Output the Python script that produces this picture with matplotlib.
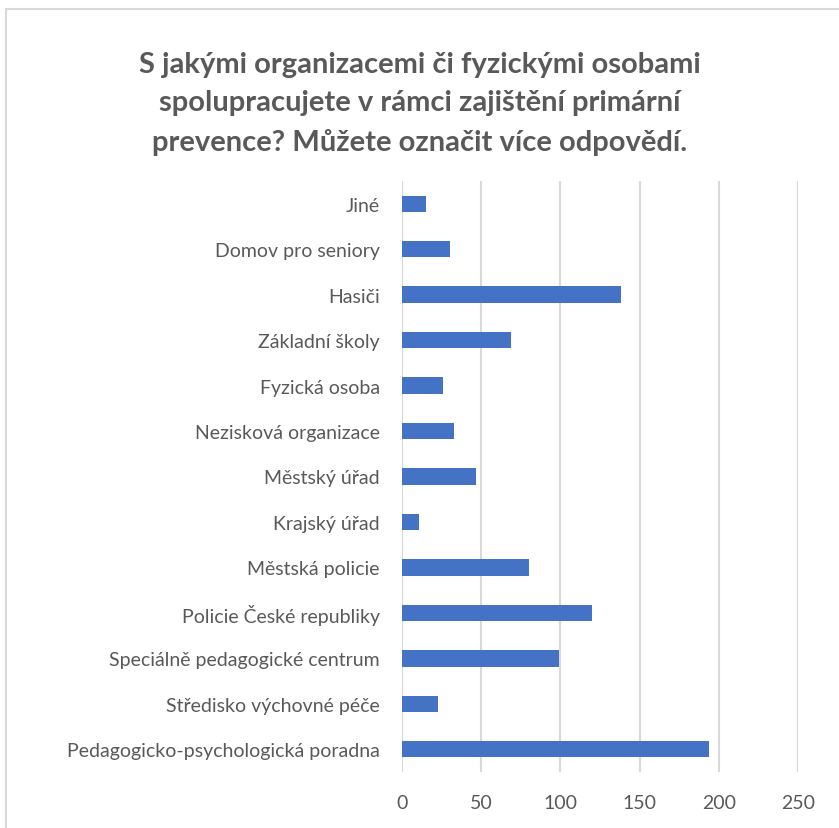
import matplotlib
matplotlib.use("Agg")
import matplotlib.pyplot as plt
from matplotlib.lines import Line2D

plt.rcParams['font.family'] = ['Lato', 'DejaVu Sans']

# Data (top to bottom)
categories = [
    "Jiné",
    "Domov pro seniory",
    "Hasiči",
    "Základní školy",
    "Fyzická osoba",
    "Nezisková organizace",
    "Městský úřad",
    "Krajský úřad",
    "Městská policie",
    "Policie České republiky",
    "Speciálně pedagogické centrum",
    "Středisko výchovné péče",
    "Pedagogicko-psychologická poradna",
]
values = [15, 30, 138, 69, 26, 33, 47, 11, 80, 120, 99, 23, 194]
xticks = [0, 50, 100, 150, 200, 250]

title = ("S jakými organizacemi či fyzickými osobami\n"
         "spolupracujete v rámci zajištění primární\n"
         "prevence? Můžete označit více odpovědí.")

W, H = 839, 829
fig = plt.figure(figsize=(W / 100, H / 100), dpi=100)

# Axes placed in pixel terms: x 402..798, y 182..773
left, right, top, bottom = 402, 798, 182, 773
ax = fig.add_axes([left / W, 1 - bottom / H, (right - left) / W, (bottom - top) / H])

ypos = list(range(len(categories)))
ax.barh(ypos, values, height=0.36, color='#4472C4', zorder=3)
ax.set_ylim(len(categories) - 0.5, -0.5)
ax.set_xlim(0, 250)

ax.set_xticks(xticks)
ax.set_yticks(ypos)
ax.set_yticklabels(categories)
ax.tick_params(axis='both', length=0, labelsize=14, colors='#595959')
ax.tick_params(axis='y', pad=16)
ax.tick_params(axis='x', pad=16)
ax.grid(axis='x', color='#d9d9d9', linewidth=1.5, zorder=0)
for s in ax.spines.values():
    s.set_visible(False)

fig.text(420 / W, 1 - 104 / H, title, ha='center', va='center',
         fontsize=21, fontweight='bold', color='#595959', linespacing=1.57)

# outer chart border (left and top visible)
fig.add_artist(Line2D([6 / W, 6 / W], [0, 1 - 10 / H], transform=fig.transFigure,
                      color='#d9d9d9', linewidth=1.5))
fig.add_artist(Line2D([6 / W, 1], [1 - 10 / H, 1 - 10 / H], transform=fig.transFigure,
                      color='#d9d9d9', linewidth=1.5))

fig.savefig('out.png', dpi=100, facecolor='white')
